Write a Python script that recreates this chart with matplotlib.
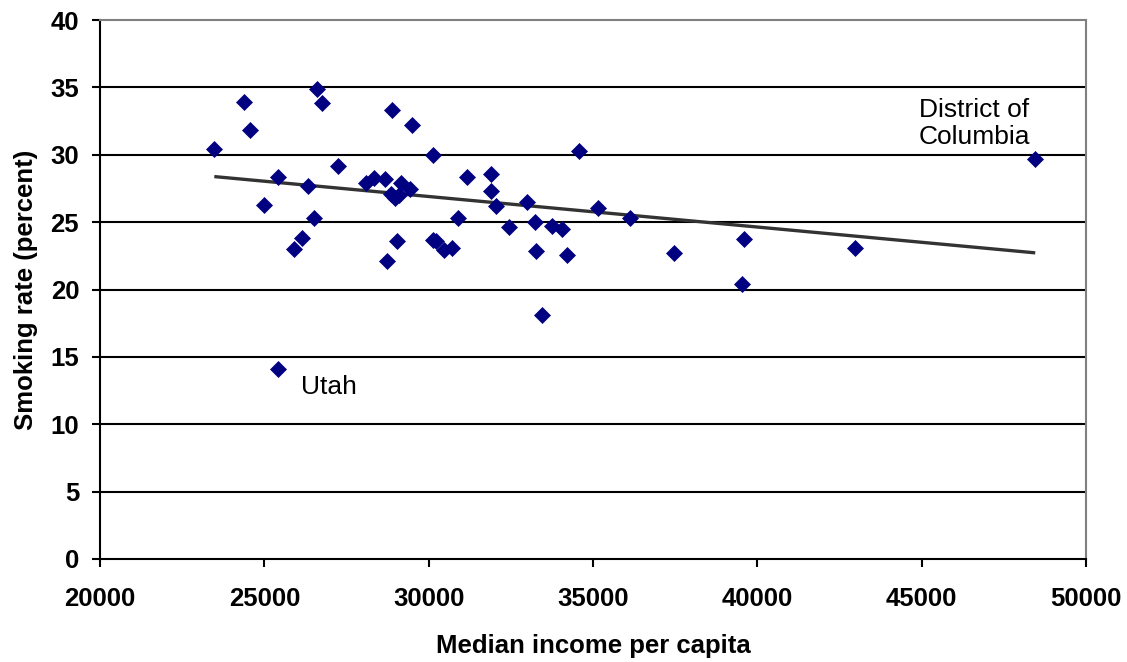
import matplotlib
matplotlib.use("Agg")
import matplotlib.pyplot as plt
import numpy as np

plt.rcParams['font.family'] = ['Liberation Sans', 'DejaVu Sans']

income = [23478, 24390, 24553, 26589, 26741, 28871, 29479, 30141, 27241, 25415,
          26317, 24989, 26513, 28081, 28333, 28670, 29166, 29431, 28853, 28975,
          29100, 26145, 25909, 29026, 28739, 30900, 30117, 30222, 30465, 30700,
          31152, 34560, 31905, 31905, 32058, 32980, 32442, 33223, 33740, 34044,
          35150, 36124, 33253, 34205, 37463, 33436, 25425, 39592, 39519, 42978,
          48455]
smoking = [30.43, 33.89, 31.86, 34.88, 33.82, 33.32, 32.18, 29.96, 29.14, 28.38,
           27.68, 26.27, 25.34, 27.88, 28.30, 28.20, 27.88, 27.48, 27.09, 26.77,
           27.00, 23.85, 23.03, 23.60, 22.09, 25.30, 23.67, 23.62, 22.90, 23.10,
           28.32, 30.28, 28.60, 27.28, 26.22, 26.47, 24.66, 25.00, 24.70, 24.51,
           26.02, 25.33, 22.88, 22.58, 22.69, 18.10, 14.08, 23.73, 20.39, 23.06,
           29.71]

# linear trend line as drawn in the reference (endpoints)
trend_income = [23478, 48455]
trend_smoking = [28.38, 22.72]

x_ticks = [20000, 25000, 30000, 35000, 40000, 45000, 50000]
y_ticks = [0, 5, 10, 15, 20, 25, 30, 35, 40]

fig = plt.figure(figsize=(11.27, 6.62), dpi=100)
ax = fig.add_axes([100/1127, 1 - 559/662, (1086 - 100)/1127, (559 - 20)/662])

ax.set_xlim(20000, 50000)
ax.set_ylim(0, 40)

for yv in y_ticks[1:-1]:
    ax.axhline(yv, color='black', lw=1.5, zorder=1)

ax.plot(trend_income, trend_smoking, color='#333333', lw=2.4, zorder=2,
        solid_capstyle='butt')

ax.plot(income, smoking, linestyle='none', marker='D', markersize=8.3,
        color='#000080', markeredgecolor='#000080', markeredgewidth=0.5,
        zorder=3, clip_on=False)

ax.text(25425 + 700, 14.08 - 0.4, 'Utah', fontsize=19, ha='left', va='top')
ax.text(48455 - 3550, 30.4, 'District of\nColumbia', fontsize=19, ha='left',
        va='bottom', linespacing=1.2)

ax.set_xticks(x_ticks)
ax.set_yticks(y_ticks)
ax.set_xticklabels([str(v) for v in x_ticks], fontsize=18.5, fontweight='bold')
ax.set_yticklabels([str(v) for v in y_ticks], fontsize=18.5, fontweight='bold')
ax.tick_params(axis='both', direction='out', length=6, width=1.5, color='black')
ax.tick_params(axis='y', pad=9)
ax.tick_params(axis='x', pad=14)

ax.spines['left'].set_color('black')
ax.spines['bottom'].set_color('black')
ax.spines['left'].set_linewidth(1.5)
ax.spines['bottom'].set_linewidth(1.5)
ax.spines['top'].set_color('#808080')
ax.spines['right'].set_color('#808080')
ax.spines['top'].set_linewidth(1.5)
ax.spines['right'].set_linewidth(1.5)

ax.set_xlabel('Median income per capita', fontsize=18.5, fontweight='bold', labelpad=17)
ax.set_ylabel('Smoking rate (percent)', fontsize=18.5, fontweight='bold', labelpad=9)

fig.savefig('out.png', dpi=100)
